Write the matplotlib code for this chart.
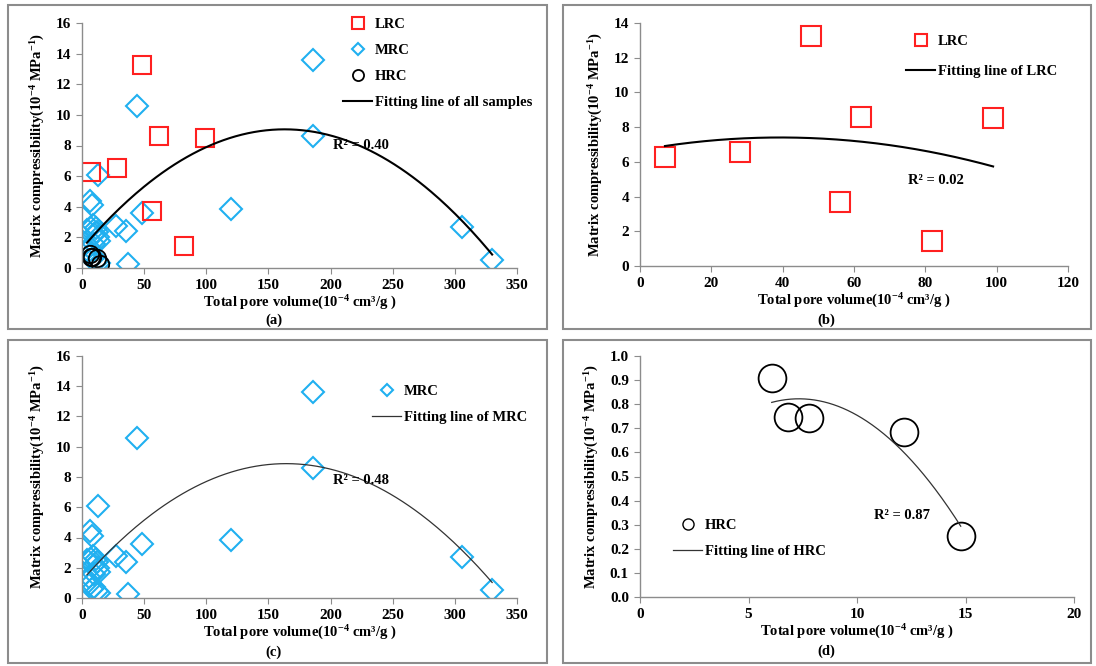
import numpy as np
import matplotlib
matplotlib.use("Agg")
import matplotlib.pyplot as plt
from matplotlib.lines import Line2D
from matplotlib.patches import Rectangle

plt.rcParams['font.family'] = ['Liberation Serif', 'DejaVu Serif']
plt.rcParams['font.weight'] = 'bold'
plt.rcParams['mathtext.fontset'] = 'custom'
plt.rcParams['mathtext.rm'] = 'Liberation Serif:bold'
plt.rcParams['mathtext.bf'] = 'Liberation Serif:bold'
plt.rcParams['mathtext.it'] = 'Liberation Serif:bold'

# ---- data ----
lrc_x = [7, 28, 48, 56, 62, 82, 99]
lrc_y = [6.3, 6.55, 13.25, 3.7, 8.6, 1.45, 8.5]

mrc_x = [186, 186, 44, 13, 6.5, 8, 120, 48, 27, 35, 306, 330, 37,
         4, 7, 9, 11, 10, 13, 12, 14, 5.5, 10, 6, 8, 10, 12, 14]
mrc_y = [13.6, 8.6, 10.55, 6.1, 4.4, 4.1, 3.85, 3.6, 2.75, 2.4, 2.7, 0.5, 0.25,
         2.5, 2.6, 2.8, 2.6, 2.2, 2.0, 2.35, 1.75, 1.4, 1.6, 0.85, 0.6, 0.75, 0.45, 0.35]

hrc_x = [6.07, 6.84, 7.77, 12.18, 14.78]
hrc_y = [0.91, 0.748, 0.743, 0.684, 0.255]

r2_labels = ['R² = 0.40', 'R² = 0.02', 'R² = 0.48', 'R² = 0.87']
panel_labels = ['(a)', '(b)', '(c)', '(d)']

RED = '#FF2020'
CYAN = '#20B0F0'
GRAY = '#8C8C8C'
FS = 10.5

W, H = 1096, 666
fig = plt.figure(figsize=(W / 100, H / 100), dpi=100)


def px_axes(l, t, r, b):
    return fig.add_axes([l / W, 1 - b / H, (r - l) / W, (b - t) / H])


# panel boxes
for (l, t, r, b) in [(8, 5, 547, 329), (563, 5, 1091, 329),
                     (8, 340, 547, 663), (563, 340, 1091, 663)]:
    fig.patches.append(Rectangle((l / W, 1 - b / H), (r - l) / W, (b - t) / H,
                                 transform=fig.transFigure, fill=False,
                                 edgecolor=GRAY, lw=1.5))

ylab = r'Matrix compressibility(10$^{-4}$ MPa$^{-1}$)'
xlab = r'Total pore volume(10$^{-4}$ cm³/g )'


def style(ax, xmax, xstep, ymax, ystep, yfmt='{:.0f}'):
    ax.set_xlim(0, xmax)
    ax.set_ylim(0, ymax)
    ax.set_xticks(np.arange(0, xmax + 1e-9, xstep))
    yt = np.arange(0, ymax + 1e-9, ystep)
    ax.set_yticks(yt)
    ax.set_yticklabels([yfmt.format(v) for v in yt])
    for s in ['top', 'right']:
        ax.spines[s].set_visible(False)
    for s in ['left', 'bottom']:
        ax.spines[s].set_color(GRAY)
        ax.spines[s].set_linewidth(1.0)
    ax.tick_params(direction='out', length=4, color=GRAY, labelsize=11, pad=4)
    for t in ax.get_xticklabels() + ax.get_yticklabels():
        t.set_fontweight('bold')
    ax.set_ylabel(ylab, fontsize=FS, fontweight='bold', labelpad=6)
    ax.set_xlabel(xlab, fontsize=FS, fontweight='bold', labelpad=1.5)
    ax.patch.set_alpha(0)


def fit(ax, xs, ys, lw, color):
    xs = np.asarray(xs, float)
    ys = np.asarray(ys, float)
    c = np.polyfit(xs, ys, 2)
    xx = np.linspace(xs.min(), xs.max(), 200)
    ax.plot(xx, np.polyval(c, xx), color=color, lw=lw, zorder=3)


def legend(ax, handles, labels, x, y, spacing):
    ax.legend(handles, labels, loc='upper left', bbox_to_anchor=(x / W, 1 - y / H),
              bbox_transform=fig.transFigure, frameon=False,
              handlelength=2.0, handletextpad=0.2, labelspacing=spacing,
              borderaxespad=0, borderpad=0,
              prop={'weight': 'bold', 'size': FS})


sq = dict(marker='s', ls='none', mfc='none', mec=RED, mew=1.5)
dm = dict(marker='D', ls='none', mfc='none', mec=CYAN, mew=1.5)
ci = dict(marker='o', ls='none', mfc='none', mec='black', mew=1.3)

# ---- (a) ----
ax = px_axes(82, 23, 517, 268)
style(ax, 350, 50, 16, 2)
ax.plot(mrc_x, mrc_y, ms=11, **dm)
ax.plot(lrc_x, lrc_y, ms=13, **sq)
ax.plot(hrc_x, hrc_y, ms=12.5, **ci)
fit(ax, lrc_x + mrc_x + hrc_x, lrc_y + mrc_y + hrc_y, 1.5, 'black')
ax.text(202, 8.0, r2_labels[0], fontsize=FS, fontweight='bold', va='center')
h = [Line2D([], [], ms=8, **sq), Line2D([], [], ms=6.5, **dm),
     Line2D([], [], ms=8, **ci), Line2D([], [], color='black', lw=1.5)]
legend(ax, h, ['LRC', 'MRC', 'HRC', 'Fitting line of all samples'], 343, 18, 0.88)
fig.text(274 / W, 1 - 320 / H, panel_labels[0], ha='center', va='center',
         fontsize=FS, fontweight='bold')

# ---- (b) ----
ax = px_axes(640, 23, 1068, 266)
style(ax, 120, 20, 14, 2)
ax.plot(lrc_x, lrc_y, ms=15, **sq)
fit(ax, lrc_x, lrc_y, 1.5, 'black')
ax.text(75, 4.95, r2_labels[1], fontsize=FS, fontweight='bold', va='center')
h = [Line2D([], [], ms=8, **sq), Line2D([], [], color='black', lw=1.5)]
legend(ax, h, ['LRC', 'Fitting line of LRC'], 906, 35, 1.15)
fig.text(826 / W, 1 - 320 / H, panel_labels[1], ha='center', va='center',
         fontsize=FS, fontweight='bold')

# ---- (c) ----
ax = px_axes(82, 356, 517, 598)
style(ax, 350, 50, 16, 2)
ax.plot(mrc_x, mrc_y, ms=11, **dm)
fit(ax, mrc_x, mrc_y, 0.9, '#333333')
ax.text(202, 7.8, r2_labels[2], fontsize=FS, fontweight='bold', va='center')
h = [Line2D([], [], ms=6.5, **dm), Line2D([], [], color='#333333', lw=0.9)]
legend(ax, h, ['MRC', 'Fitting line of MRC'], 372, 385, 0.85)
fig.text(274 / W, 1 - 652 / H, panel_labels[2], ha='center', va='center',
         fontsize=FS, fontweight='bold')

# ---- (d) ----
ax = px_axes(640, 356, 1074, 597)
style(ax, 20, 5, 1.0, 0.1, '{:.1f}')
ax.plot(hrc_x, hrc_y, ms=20, **ci)
fit(ax, hrc_x, hrc_y, 0.9, '#333333')
ax.text(10.8, 0.34, r2_labels[3], fontsize=FS, fontweight='bold', va='center')
h = [Line2D([], [], ms=8, mew=1.0, **{k: v for k, v in ci.items() if k != 'mew'}),
     Line2D([], [], color='#333333', lw=0.9)]
legend(ax, h, ['HRC', 'Fitting line of HRC'], 673, 519, 0.88)
fig.text(826 / W, 1 - 651 / H, panel_labels[3], ha='center', va='center',
         fontsize=FS, fontweight='bold')

fig.savefig('out.png', dpi=100)
